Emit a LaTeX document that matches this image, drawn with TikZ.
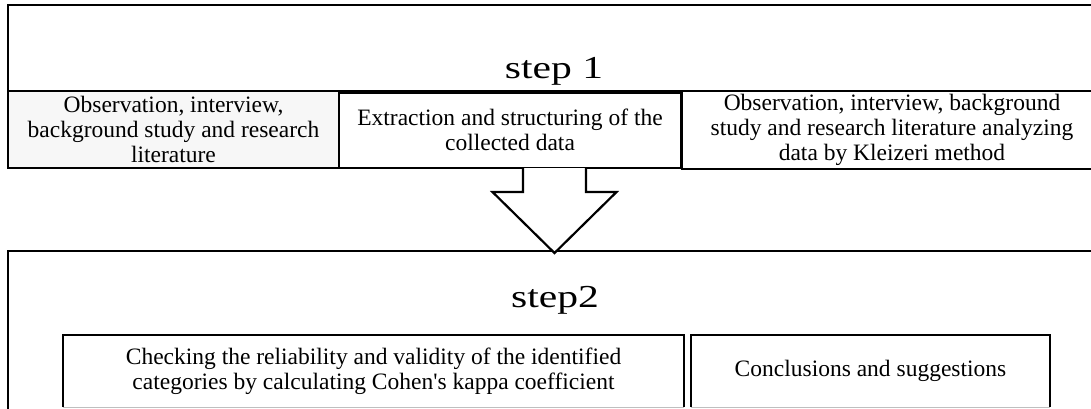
\documentclass[tikz,border=0pt]{standalone}
\usepackage{fontspec}
\setmainfont{Liberation Serif}
\usetikzlibrary{calc}
\tikzset{
  boxline/.style={draw=black, line width=2.2pt},
  cell/.style={anchor=north west, inner sep=0pt, outer sep=0pt, align=center,
    font=\fontsize{23.5}{25}\selectfont},
  title/.style={anchor=base, inner sep=0pt},
  bigarrow/.style={draw=black, line width=2.2pt, fill=white, line join=miter},
}
\begin{document}
\begin{tikzpicture}[x=1pt,y=-1pt]
\useasboundingbox (0,0) rectangle (1091,409);
\clip (0,0) rectangle (1091,409);
% step 1 frame
\node[cell, boxline, minimum width=1100, minimum height=86] (top) at (8,5) {};
\node[title] (s1) at (554,79) {\scalebox{1.3}[1]{\fontsize{32}{36}\selectfont step 1}};
\node[cell, boxline, fill=black!3, minimum width=331, minimum height=77] (left) at (8,91)
  {Observation, interview,\\background study and research\\literature};
\node[cell, boxline, fill=white, minimum width=342, minimum height=75.5] (mid) at (339,92.5)
  {Extraction and structuring of the\\collected data};
\node[cell, boxline, fill=white, minimum width=420, minimum height=78] (right) at (682,91)
  {Observation, interview, background\\study and research literature analyzing\\data by Kleizeri method};
% step 2 frame
\node[cell, boxline, minimum width=1100, minimum height=200] (bot) at (8,251) {};
\node[title] (s2) at (555,307) {\scalebox{1.3}[1]{\fontsize{32}{36}\selectfont step2}};
\node[cell, minimum width=621, minimum height=72] (c1) at (63,335)
  {Checking the reliability and validity of the identified\\categories by calculating Cohen\textquotesingle s kappa coefficient};
\node[cell, minimum width=359, minimum height=72] (c2) at (691,335)
  {Conclusions and suggestions};
\foreach \n in {c1,c2}{
  \draw[boxline] (\n.south west) -- (\n.north west) -- (\n.north east) -- (\n.south east);
  \draw[black!25, line width=1pt] (\n.south west) -- (\n.south east);
}
% block arrow from step 1 to step 2
\coordinate (atop) at (554.5,168);
\coordinate (atip) at (554.5,253);
\draw[bigarrow] ($(atop)+(-31.5,0)$) -- ($(atop)+(-31.5,24)$) -- ($(atop)+(-62,24)$)
  -- (atip) -- ($(atop)+(62,24)$) -- ($(atop)+(31.5,24)$) -- ($(atop)+(31.5,0)$);
\end{tikzpicture}
\end{document}
